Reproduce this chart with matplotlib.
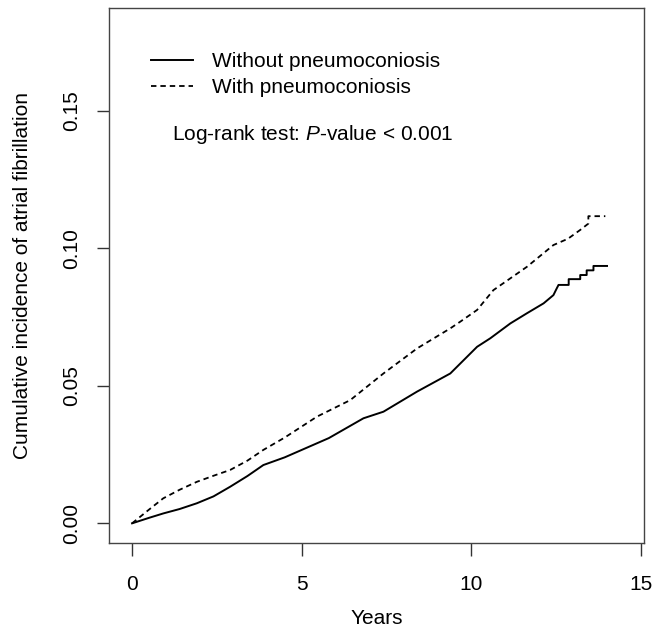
import numpy as np
from matplotlib import pyplot as plt

plt.rcParams['font.family'] = 'Liberation Sans'
plt.rcParams['mathtext.fontset'] = 'custom'
plt.rcParams['mathtext.it'] = 'Liberation Sans:italic'
plt.rcParams['mathtext.rm'] = 'Liberation Sans'

# cumulative incidence (years, incidence)
t_without = [0, 0.5, 0.92, 1.4, 1.91, 2.4, 2.89, 3.4, 3.87, 4.5, 5.15, 5.8, 6.82, 7.41, 8.40, 9.38, 10.17,
             10.56, 11.15, 11.64, 12.13, 12.42, 12.50, 12.57, 12.87, 12.87, 13.21, 13.21,
             13.40, 13.40, 13.60, 13.60, 14.0]
y_without = [0, 0.0020, 0.0036, 0.0052, 0.0073, 0.0098, 0.0133, 0.0172, 0.0212, 0.0240, 0.0275, 0.0310,
             0.0382, 0.0406, 0.0479, 0.0545, 0.0642,
             0.0673, 0.0727, 0.0764, 0.0800, 0.0830, 0.0850, 0.0867, 0.0867, 0.0888, 0.0888, 0.0903,
             0.0903, 0.0920, 0.0920, 0.0936, 0.0936]

t_with = [0, 0.5, 0.92, 1.4, 1.91, 2.4, 2.89, 3.4, 3.87, 4.5, 5.15, 5.45, 6.43, 7.41, 8.40, 9.38, 9.67, 10.17,
          10.65, 11.64, 12.42, 12.85, 13.21, 13.45, 13.45, 13.95]
y_with = [0, 0.0050, 0.0091, 0.0122, 0.0151, 0.0173, 0.0194, 0.0228, 0.0267, 0.0312, 0.0364, 0.0388,
          0.0448, 0.0545, 0.0636, 0.0709, 0.0733, 0.0776,
          0.0848, 0.0933, 0.1012, 0.1035, 0.1067, 0.1090, 0.1117, 0.1117]

fig = plt.figure(figsize=(6.55, 6.31), dpi=100)
ax = fig.add_axes([0.1664, 0.1399, 0.8163, 0.8474])

ax.plot(t_without, y_without, color='black', lw=1.4, label='Without pneumoconiosis')
ax.plot(t_with, y_with, color='black', lw=1.3, dashes=(3, 2.2), label='With pneumoconiosis')

ax.set_xlim(-0.68, 15.08)
ax.set_ylim(-0.00705, 0.1874)
ax.set_xticks([0, 5, 10, 15])
ax.set_yticks([0.0, 0.05, 0.10, 0.15])
ax.set_yticklabels(['0.00', '0.05', '0.10', '0.15'], rotation=90, va='center')
ax.tick_params(length=9, width=1, labelsize=15, color='#333333')
ax.tick_params(axis='x', pad=14)
ax.tick_params(axis='y', pad=11)
for s in ax.spines.values():
    s.set_linewidth(1.0)
    s.set_color('#444444')

ax.set_xlabel('Years', fontsize=15, labelpad=11)
ax.set_ylabel('Cumulative incidence of atrial fibrillation', fontsize=15, labelpad=22)

ax.legend(loc='upper left', bbox_to_anchor=(0.0786, 0.918), frameon=False,
          fontsize=15, handlelength=2.0, handletextpad=0.95, labelspacing=0.35,
          borderpad=0, borderaxespad=0)

ax.text(1.18, 0.1415, r'Log-rank test: $\it{P}$-value < 0.001', fontsize=15, va='center')

fig.savefig('out.png', dpi=100)
